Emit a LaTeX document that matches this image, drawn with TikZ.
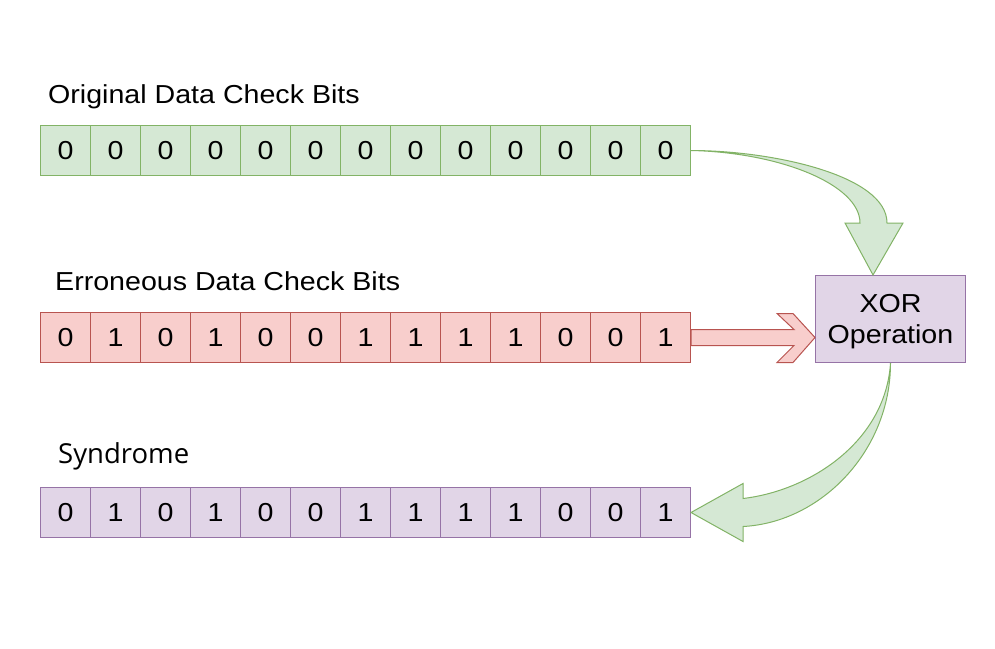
\documentclass[tikz,border=0pt]{standalone}
\usepackage{fontspec}
\setmainfont{Liberation Sans}[FakeStretch=1.1]
\newfontfamily\synfont{Open Sans}
\usetikzlibrary{calc}
\definecolor{gfill}{HTML}{D5E8D4}
\definecolor{gline}{HTML}{82B366}
\definecolor{rfill}{HTML}{F8CECC}
\definecolor{rline}{HTML}{B85450}
\definecolor{pfill}{HTML}{E1D5E7}
\definecolor{pline}{HTML}{9673A6}
\begin{document}
\begin{tikzpicture}[x=1pt,y=-1pt,
  cellbase/.style={draw, line width=1pt, minimum width=50pt, minimum height=50pt,
    inner sep=0pt, anchor=north west, font=\fontsize{26}{30}\selectfont},
  gcell/.style={cellbase, fill=gfill, draw=gline},
  rcell/.style={cellbase, fill=rfill, draw=rline},
  pcell/.style={cellbase, fill=pfill, draw=pline},
  lbl/.style={anchor=base west, inner sep=0pt, font=\fontsize{26}{30}\selectfont},
  garrow/.style={fill=gfill, draw=gline, line width=1pt},
  rarrow/.style={fill=rfill, draw=rline, line width=1pt},
  opbox/.style={draw=pline, fill=pfill, line width=1pt, minimum width=150pt,
    minimum height=87pt, inner sep=0pt, anchor=north west},
  optext/.style={align=center, inner sep=0pt, font=\fontsize{26}{31}\selectfont}
]
\useasboundingbox (0,0) rectangle (995,648);

\node[lbl] (l1) at (48,103) {Original Data Check Bits};
\node[lbl] (l2) at (55,290) {Erroneous Data Check Bits};
\node[lbl, font=\synfont\fontsize{27.5}{30}\selectfont] (l3) at (58,463) {Syndrome};

\foreach \b [count=\i] in {0,0,0,0,0,0,0,0,0,0,0,0,0}
  \node[gcell] (o\i) at ({40+50*(\i-1)},125) {\b};
\foreach \b [count=\i] in {0,1,0,1,0,0,1,1,1,1,0,0,1}
  \node[rcell] (e\i) at ({40+50*(\i-1)},312) {\b};
\foreach \b [count=\i] in {0,1,0,1,0,0,1,1,1,1,0,0,1}
  \node[pcell] (s\i) at ({40+50*(\i-1)},487) {\b};

\node[opbox] (xor) at (815,275) {};
\node[optext] (xort) at ($(xor.center)+(0,3)$) {XOR\\Operation};

% red arrow
\coordinate (rs) at (e13.east);
\coordinate (rt) at (e13.east -| xor.west);
\draw[rarrow] ($(rs)+(0,-8)$) -- ($(rt)+(-21,-8)$) -- ($(rt)+(-38,-24)$)
  -- ($(rt)+(-22,-24)$) -- (rt) -- ($(rt)+(-22,25)$) -- ($(rt)+(-38,25)$)
  -- ($(rt)+(-21,8)$) -- ($(rs)+(0,8)$) -- cycle;

% green arrow 1
\coordinate (a1s) at (o13.east);
\coordinate (a1t) at ($(xor.north west)+(58,0)$);
\draw[garrow] (a1s) .. controls ($(a1s)+(80,0)$) and ($(a1t)+(14,-100)$) .. ($(a1t)+(14,-52)$)
  -- ($(a1t)+(30,-52)$) -- (a1t) -- ($(a1t)+(-28,-52)$) -- ($(a1t)+(-13,-52)$)
  .. controls ($(a1t)+(-13,-90)$) and ($(a1s)+(90,2)$) .. (a1s) -- cycle;

% green arrow 2
\coordinate (a2s) at (xor.south);
\coordinate (a2t) at (s13.east);
\draw[garrow] (a2s) .. controls ($(a2s)+(0,88)$) and ($(a2t)+(130,10)$) .. ($(a2t)+(52,14)$)
  -- ($(a2t)+(52,29)$) -- (a2t) -- ($(a2t)+(52,-29)$) -- ($(a2t)+(52,-14)$)
  .. controls ($(a2t)+(120,-22)$) and ($(a2s)+(-5,78)$) .. (a2s) -- cycle;
\end{tikzpicture}
\end{document}
